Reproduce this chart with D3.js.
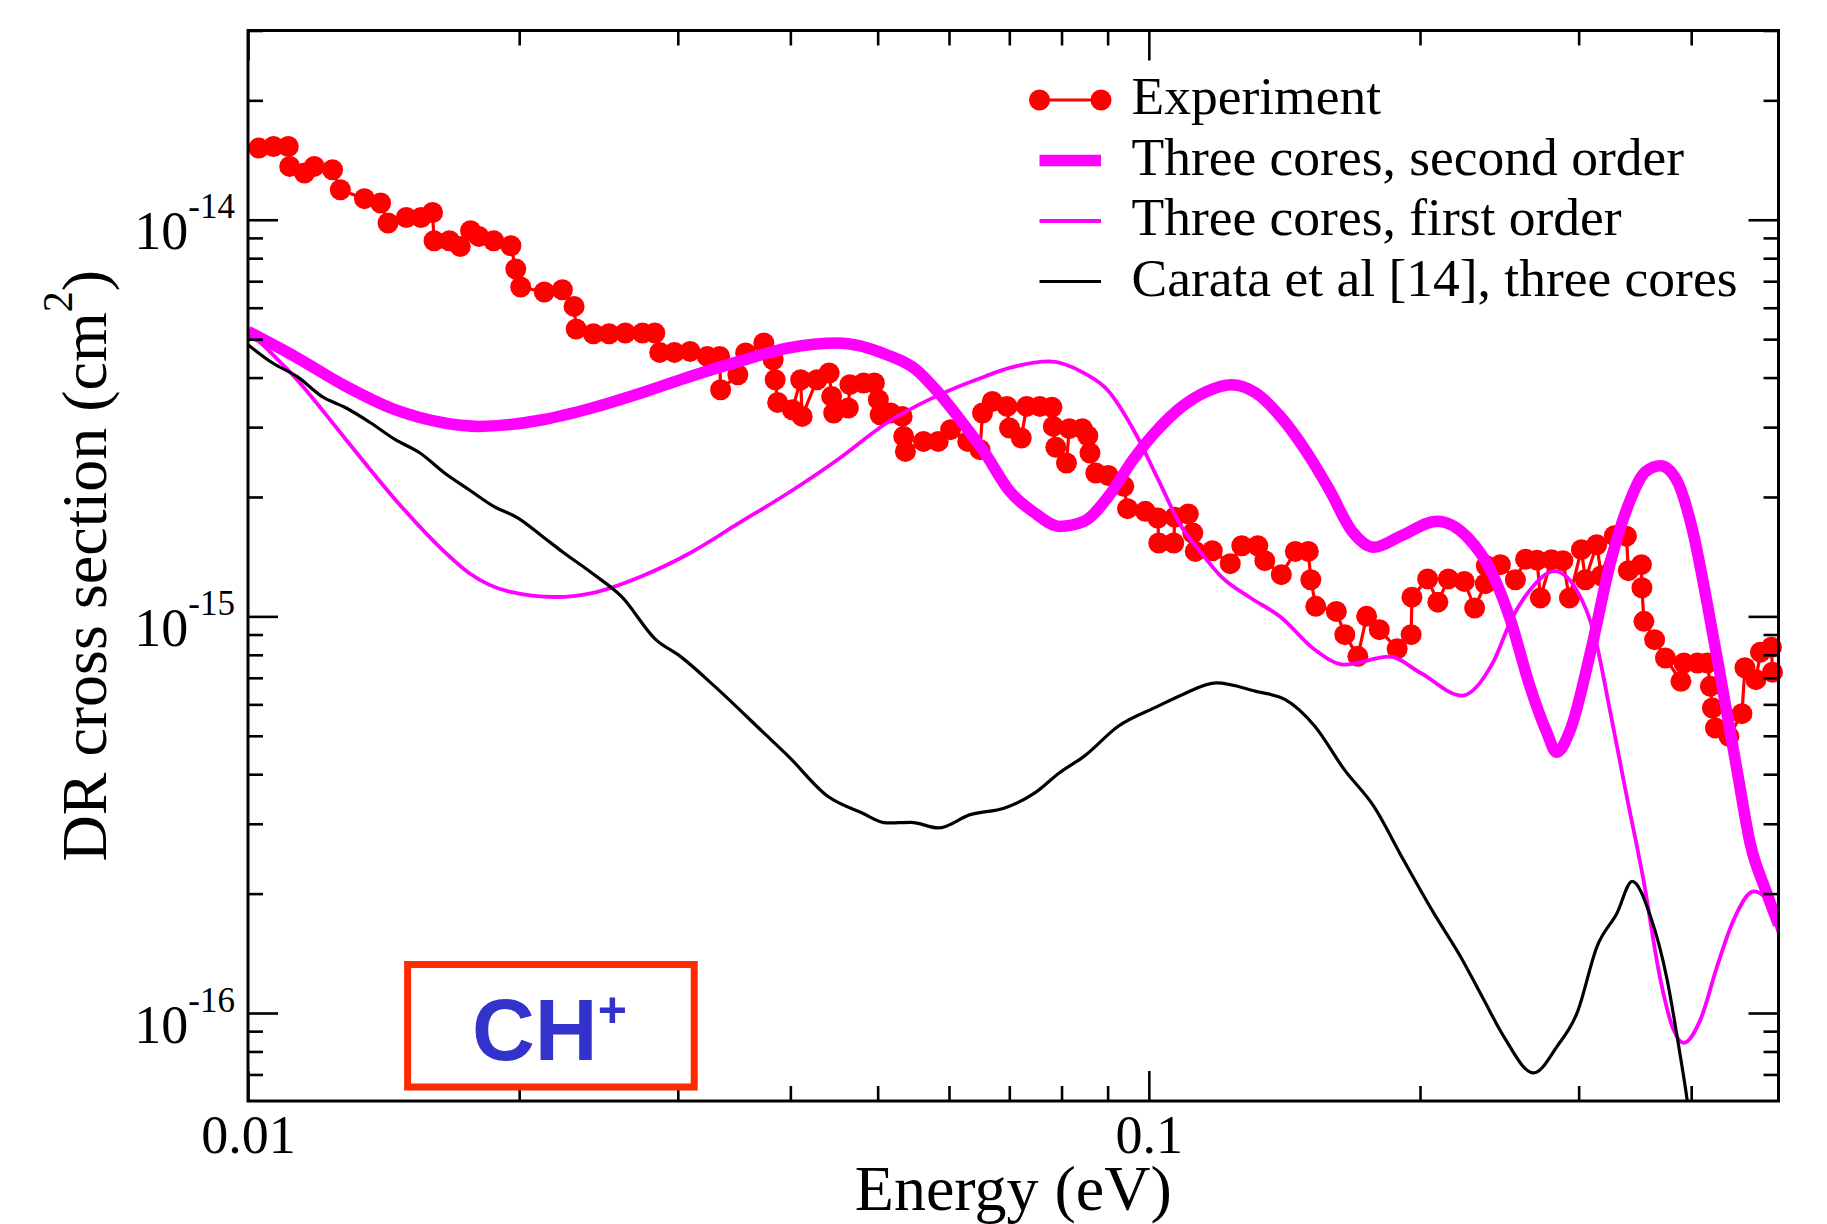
<!DOCTYPE html>
<html>
<head>
<meta charset="utf-8">
<script src="https://cdnjs.cloudflare.com/ajax/libs/d3/7.8.5/d3.min.js"></script>
<style>
  html, body { margin: 0; padding: 0; background: #fff; }
  svg { display: block; }
  text { font-family: "Liberation Serif", "Times New Roman", serif; }
</style>
</head>
<body>
<svg id="chart" width="1827" height="1224"></svg>
<script>
// ---- Experiment (storage ring measurement) ----
const expEnergy = [
  0.01028, 0.010674, 0.011085, 0.011125, 0.011554, 0.011847, 0.012412, 0.012662, 0.013466, 0.014036,
  0.014304, 0.014986, 0.015560, 0.016027, 0.016089, 0.016735, 0.017204, 0.017663, 0.018042, 0.018737,
  0.019580, 0.019827, 0.020077, 0.021325, 0.022335, 0.023013, 0.023137, 0.024177, 0.025168, 0.026233,
  0.027412, 0.028288, 0.028645, 0.029741, 0.030960, 0.032352, 0.033385, 0.033470, 0.034975, 0.035679,
  0.037379, 0.038279, 0.038475, 0.038722, 0.040205, 0.041067, 0.041225, 0.042814, 0.044170, 0.044454,
  0.044681, 0.046393, 0.046571, 0.048232, 0.049582, 0.050092, 0.050323, 0.051679, 0.053235, 0.053440,
  0.053672, 0.056214, 0.058369, 0.060249, 0.062942, 0.064953, 0.065369, 0.067027, 0.069600, 0.070040,
  0.072174, 0.073178, 0.075689, 0.078060, 0.078327, 0.078829, 0.081016, 0.081597, 0.084355, 0.085551,
  0.086033, 0.087317, 0.090145, 0.093799, 0.094705, 0.099099, 0.10231, 0.10257, 0.10658, 0.10685,
  0.11061, 0.11189, 0.11260, 0.11761, 0.12314, 0.12682, 0.13211, 0.13450, 0.14030, 0.14541,
  0.15032, 0.15129, 0.15323, 0.16148, 0.16503, 0.17061, 0.17449, 0.18024, 0.18864, 0.19551,
  0.19591, 0.20393, 0.20932, 0.21502, 0.22400, 0.22997, 0.23635, 0.23696, 0.24560, 0.25520,
  0.26194, 0.26976, 0.27204, 0.27980, 0.28815, 0.29298, 0.30211, 0.30521, 0.31416, 0.31796,
  0.32871, 0.33895, 0.34068, 0.35220, 0.35265, 0.35446, 0.36429, 0.37449, 0.38963, 0.39263,
  0.40642, 0.41694, 0.42005, 0.42231, 0.42556, 0.44051, 0.45539, 0.45889, 0.47199, 0.47744,
  0.49107, 0.49233
];
const expSigma = [
  1.516e-14, 1.530e-14, 1.530e-14, 1.363e-14, 1.311e-14, 1.363e-14, 1.337e-14, 1.190e-14, 1.130e-14, 1.102e-14,
  9.810e-15, 1.013e-14, 1.013e-14, 1.043e-14, 8.853e-15, 8.853e-15, 8.564e-15, 9.381e-15, 9.076e-15, 8.853e-15,
  8.599e-15, 7.511e-15, 6.767e-15, 6.573e-15, 6.661e-15, 6.046e-15, 5.303e-15, 5.160e-15, 5.160e-15, 5.181e-15,
  5.181e-15, 5.181e-15, 4.629e-15, 4.629e-15, 4.656e-15, 4.523e-15, 4.523e-15, 3.728e-15, 4.067e-15, 4.613e-15,
  4.889e-15, 4.437e-15, 3.951e-15, 3.463e-15, 3.319e-15, 3.951e-15, 3.193e-15, 3.951e-15, 4.107e-15, 3.586e-15,
  3.257e-15, 3.352e-15, 3.838e-15, 3.876e-15, 3.876e-15, 3.518e-15, 3.224e-15, 3.257e-15, 3.193e-15, 2.843e-15,
  2.606e-15, 2.761e-15, 2.761e-15, 2.956e-15, 2.761e-15, 2.632e-15, 3.257e-15, 3.483e-15, 3.384e-15, 2.985e-15,
  2.817e-15, 3.384e-15, 3.384e-15, 3.368e-15, 3.013e-15, 2.670e-15, 2.436e-15, 2.973e-15, 2.973e-15, 2.854e-15,
  2.582e-15, 2.299e-15, 2.266e-15, 2.127e-15, 1.869e-15, 1.840e-15, 1.770e-15, 1.531e-15, 1.531e-15, 1.779e-15,
  1.813e-15, 1.623e-15, 1.458e-15, 1.464e-15, 1.358e-15, 1.507e-15, 1.507e-15, 1.382e-15, 1.274e-15, 1.458e-15,
  1.458e-15, 1.237e-15, 1.060e-15, 1.029e-15, 8.992e-16, 7.928e-16, 1.000e-15, 9.257e-16, 8.281e-16, 8.992e-16,
  1.118e-15, 1.243e-15, 1.086e-15, 1.243e-15, 1.225e-15, 1.050e-15, 1.209e-15, 1.342e-15, 1.350e-15, 1.237e-15,
  1.394e-15, 1.386e-15, 1.113e-15, 1.390e-15, 1.382e-15, 1.113e-15, 1.473e-15, 1.237e-15, 1.516e-15, 1.266e-15,
  1.597e-15, 1.593e-15, 1.304e-15, 1.350e-15, 1.181e-15, 9.714e-16, 8.735e-16, 7.855e-16, 6.857e-16, 7.629e-16,
  7.629e-16, 7.629e-16, 6.661e-16, 5.876e-16, 5.232e-16, 4.983e-16, 5.685e-16, 7.423e-16, 6.924e-16, 8.124e-16,
  8.363e-16, 7.232e-16
];

// ---- Three cores, second order ----
const secondOrderEnergy = [
  0.01, 0.011335, 0.012848, 0.014562, 0.016527, 0.018042, 0.021244, 0.024085, 0.027314, 0.030960,
  0.035092, 0.039776, 0.045130, 0.051166, 0.055175, 0.058011, 0.061745, 0.065771, 0.069986, 0.074727,
  0.079529, 0.084723, 0.090192, 0.096046, 0.10226, 0.10892, 0.11596, 0.12346, 0.13147, 0.13994,
  0.14906, 0.15862, 0.16822, 0.17773, 0.19067, 0.20906, 0.22630, 0.23940, 0.25195, 0.26450,
  0.27661, 0.28340, 0.29373, 0.30914, 0.32536, 0.34243, 0.35582, 0.36973, 0.38517, 0.40125,
  0.41694, 0.43324, 0.45019, 0.46540, 0.48361, 0.5
];
const secondOrderSigma = [
  5.229e-15, 4.489e-15, 3.800e-15, 3.319e-15, 3.073e-15, 3.013e-15, 3.132e-15, 3.352e-15, 3.657e-15, 4.027e-15,
  4.394e-15, 4.749e-15, 4.889e-15, 4.568e-15, 4.187e-15, 3.728e-15, 3.132e-15, 2.582e-15, 2.074e-15, 1.822e-15,
  1.686e-15, 1.736e-15, 2.007e-15, 2.483e-15, 2.956e-15, 3.384e-15, 3.691e-15, 3.838e-15, 3.657e-15, 3.193e-15,
  2.632e-15, 2.086e-15, 1.635e-15, 1.494e-15, 1.597e-15, 1.738e-15, 1.574e-15, 1.311e-15, 9.810e-16, 6.727e-16,
  5.091e-16, 4.547e-16, 5.181e-16, 8.100e-16, 1.366e-15, 1.969e-15, 2.316e-15, 2.398e-15, 2.211e-15, 1.654e-15,
  1.070e-15, 6.611e-16, 4.036e-16, 2.658e-16, 2.047e-16, 1.671e-16
];

// ---- Three cores, first order ----
const firstOrderEnergy = [
  0.01, 0.011335, 0.012848, 0.014573, 0.016527, 0.017595, 0.019455, 0.021922, 0.024085, 0.027314,
  0.030960, 0.035092, 0.039776, 0.045130, 0.051166, 0.058011, 0.065771, 0.070165, 0.077582, 0.084723,
  0.089914, 0.096587, 0.10244, 0.10837, 0.11405, 0.12065, 0.12961, 0.13994, 0.15284, 0.16482,
  0.18491, 0.20017, 0.22268, 0.24063, 0.25325, 0.26517, 0.28196, 0.29827, 0.31232, 0.32536,
  0.33808, 0.35401, 0.36973, 0.38223, 0.39243, 0.40954, 0.42741, 0.44595, 0.46935, 0.48571, 0.5
];
const firstOrderSigma = [
  5.251e-15, 3.951e-15, 2.789e-15, 1.969e-15, 1.455e-15, 1.286e-15, 1.156e-15, 1.119e-15, 1.145e-15, 1.261e-15,
  1.445e-15, 1.720e-15, 2.047e-15, 2.483e-15, 3.073e-15, 3.586e-15, 4.027e-15, 4.236e-15, 4.394e-15, 4.107e-15,
  3.728e-15, 2.900e-15, 2.211e-15, 1.703e-15, 1.455e-15, 1.252e-15, 1.114e-15, 9.983e-16, 8.242e-16, 7.554e-16,
  7.913e-16, 7.211e-16, 6.313e-16, 7.598e-16, 9.925e-16, 1.168e-15, 1.300e-15, 1.168e-15, 8.992e-16, 5.718e-16,
  3.657e-16, 2.169e-16, 1.214e-16, 9.080e-17, 8.406e-17, 9.623e-17, 1.311e-16, 1.720e-16, 2.027e-16, 1.931e-16,
  1.595e-16
];

// ---- Carata et al [14], three cores ----
const carataEnergy = [
  0.01, 0.010649, 0.011335, 0.012074, 0.012854, 0.013688, 0.014573, 0.015524, 0.016527, 0.017595,
  0.018737, 0.019944, 0.021244, 0.022335, 0.024085, 0.025973, 0.028360, 0.030193, 0.032969, 0.037379,
  0.039806, 0.044013, 0.048060, 0.051166, 0.054473, 0.058369, 0.063345, 0.069176, 0.074727, 0.079529,
  0.084723, 0.092480, 0.10226, 0.10892, 0.11890, 0.13147, 0.14174, 0.15284, 0.16482, 0.17773,
  0.19165, 0.20709, 0.22171, 0.23533, 0.24768, 0.26742, 0.28392, 0.29881, 0.31449, 0.33097,
  0.34393, 0.36040, 0.37612, 0.38744, 0.39585, 0.40125
];
const carataSigma = [
  4.841e-15, 4.353e-15, 4.027e-15, 3.586e-15, 3.352e-15, 3.073e-15, 2.789e-15, 2.582e-15, 2.299e-15, 2.086e-15,
  1.894e-15, 1.770e-15, 1.588e-15, 1.455e-15, 1.286e-15, 1.123e-15, 8.735e-16, 7.928e-16, 6.661e-16, 5.083e-16,
  4.437e-16, 3.518e-16, 3.194e-16, 3.014e-16, 3.025e-16, 2.928e-16, 3.163e-16, 3.288e-16, 3.588e-16, 4.029e-16,
  4.437e-16, 5.286e-16, 5.931e-16, 6.348e-16, 6.794e-16, 6.471e-16, 6.168e-16, 5.286e-16, 4.107e-16, 3.319e-16,
  2.436e-16, 1.788e-16, 1.390e-16, 1.081e-16, 8.734e-17, 7.063e-17, 8.241e-17, 1.0006e-16, 1.473e-16, 1.788e-16,
  2.148e-16, 1.753e-16, 1.214e-16, 8.241e-17, 6.049e-17, 4.796e-17
];

// ---- Axis ticks and labels ----
const xMajorTicks = [0.01, 0.1];
const xTickLabels = ["0.01", "0.1"];
const xMinorTicks = [0.02, 0.03, 0.04, 0.05, 0.06, 0.07, 0.08, 0.09, 0.2, 0.3, 0.4];
const yMajorTicks = [1e-16, 1e-15, 1e-14];
const yTickExponents = ["-16", "-15", "-14"];
const yMinorTicks = [7e-17, 8e-17, 9e-17,
  2e-16, 3e-16, 4e-16, 5e-16, 6e-16, 7e-16, 8e-16, 9e-16,
  2e-15, 3e-15, 4e-15, 5e-15, 6e-15, 7e-15, 8e-15, 9e-15,
  2e-14, 3e-14];
const legendLabels = [
  "Experiment",
  "Three cores, second order",
  "Three cores, first order",
  "Carata et al [14], three cores"
];

// ---- Layout ----
const W = 1827, H = 1224;
const plot = { left: 248, right: 1778.5, top: 30.5, bottom: 1101 };
const MAGENTA = "#ff00ff", RED = "#ff0000";
const THICK = 11.5, THIN = 3.8, BLACK_W = 3.2;

const svg = d3.select("#chart");
svg.append("rect").attr("width", W).attr("height", H).attr("fill", "#fff");

const x = d3.scaleLog().domain([0.01, 0.5]).range([plot.left, plot.right]);
const y = d3.scaleLog().domain([6e-17, 3e-14]).range([plot.bottom, plot.top]);

svg.append("defs").append("clipPath").attr("id", "plotClip")
  .append("rect")
  .attr("x", plot.left).attr("y", plot.top)
  .attr("width", plot.right - plot.left).attr("height", plot.bottom - plot.top);

const line = d3.line()
  .x(d => x(d[0]))
  .y(d => y(d[1]))
  .curve(d3.curveMonotoneX);

const expData = d3.zip(expEnergy, expSigma);
const secondData = d3.zip(secondOrderEnergy, secondOrderSigma);
const firstData = d3.zip(firstOrderEnergy, firstOrderSigma);
const carataData = d3.zip(carataEnergy, carataSigma);

// ---- Experiment: connected filled circles ----
const expG = svg.append("g");
expG.append("path")
  .datum(expData)
  .attr("fill", "none")
  .attr("stroke", RED)
  .attr("stroke-width", 3.2)
  .attr("stroke-linejoin", "round")
  .attr("d", d3.line().x(d => x(d[0])).y(d => y(d[1])));
expG.selectAll("circle")
  .data(expData)
  .join("circle")
  .attr("cx", d => x(d[0]))
  .attr("cy", d => y(d[1]))
  .attr("r", 10.5)
  .attr("fill", RED);

// ---- Theory curves ----
const curves = svg.append("g").attr("clip-path", "url(#plotClip)");
curves.append("path").datum(secondData)
  .attr("fill", "none").attr("stroke", MAGENTA).attr("stroke-width", THICK)
  .attr("stroke-linejoin", "round").attr("d", line);
curves.append("path").datum(firstData)
  .attr("fill", "none").attr("stroke", MAGENTA).attr("stroke-width", THIN)
  .attr("stroke-linejoin", "round").attr("d", line);
curves.append("path").datum(carataData)
  .attr("fill", "none").attr("stroke", "#000").attr("stroke-width", BLACK_W)
  .attr("stroke-linejoin", "round").attr("d", line);

// ---- Axes (ticks pointing inward on all four sides) ----
function styleAxis(g) {
  g.select(".domain").remove();
  g.selectAll(".tick line").attr("stroke", "#000").attr("stroke-width", 2.6);
}

// bottom
svg.append("g").attr("transform", `translate(0,${plot.bottom})`)
  .call(d3.axisBottom(x).tickValues(xMinorTicks).tickSize(-15).tickFormat(""))
  .call(styleAxis);
const xAxisG = svg.append("g").attr("transform", `translate(0,${plot.bottom})`)
  .call(d3.axisBottom(x).tickValues(xMajorTicks).tickSize(-30).tickPadding(0)
    .tickFormat((d, i) => xTickLabels[i]))
  .call(styleAxis);
xAxisG.selectAll(".tick text")
  .attr("y", 52).attr("dy", null)
  .attr("fill", "#000")
  .style("font-family", "'Liberation Serif', serif")
  .style("font-size", "54px");

// top
svg.append("g").attr("transform", `translate(0,${plot.top})`)
  .call(d3.axisTop(x).tickValues(xMinorTicks).tickSize(-15).tickFormat(""))
  .call(styleAxis);
svg.append("g").attr("transform", `translate(0,${plot.top})`)
  .call(d3.axisTop(x).tickValues(xMajorTicks).tickSize(-30).tickFormat(""))
  .call(styleAxis);

// left
svg.append("g").attr("transform", `translate(${plot.left},0)`)
  .call(d3.axisLeft(y).tickValues(yMinorTicks).tickSize(-15).tickFormat(""))
  .call(styleAxis);
const yAxisG = svg.append("g").attr("transform", `translate(${plot.left},0)`)
  .call(d3.axisLeft(y).tickValues(yMajorTicks).tickSize(-30).tickPadding(13).tickFormat(""))
  .call(styleAxis);
yAxisG.selectAll(".tick text").each(function (d, i) {
  const t = d3.select(this)
    .attr("y", 29).attr("dy", null)
    .attr("fill", "#000")
    .attr("text-anchor", "end")
    .style("font-family", "'Liberation Serif', serif")
    .style("font-size", "54px");
  t.text(null);
  t.append("tspan").text("10");
  t.append("tspan").attr("dy", -31).style("font-size", "35px").text(yTickExponents[i]);
});

// right
svg.append("g").attr("transform", `translate(${plot.right},0)`)
  .call(d3.axisRight(y).tickValues(yMinorTicks).tickSize(-15).tickFormat(""))
  .call(styleAxis);
svg.append("g").attr("transform", `translate(${plot.right},0)`)
  .call(d3.axisRight(y).tickValues(yMajorTicks).tickSize(-30).tickFormat(""))
  .call(styleAxis);

// frame
svg.append("rect")
  .attr("x", plot.left).attr("y", plot.top)
  .attr("width", plot.right - plot.left).attr("height", plot.bottom - plot.top)
  .attr("fill", "none").attr("stroke", "#000").attr("stroke-width", 3);

// ---- Axis titles ----
svg.append("text")
  .attr("x", (plot.left + plot.right) / 2).attr("y", 1210)
  .attr("text-anchor", "middle")
  .style("font-size", "64px")
  .text("Energy (eV)");

const yTitle = svg.append("text")
  .attr("transform", `translate(106,${(plot.top + plot.bottom) / 2}) rotate(-90)`)
  .attr("text-anchor", "middle")
  .style("font-size", "64px");
yTitle.append("tspan").text("DR cross section (cm");
yTitle.append("tspan").attr("dy", -34).style("font-size", "42px").text("2");
yTitle.append("tspan").attr("dy", 34).text(")");

// ---- Legend ----
const legend = svg.append("g");
const legX0 = 1039.5, legX1 = 1101, legTextX = 1131.5;
const legendStyles = [[RED, 3.2], [MAGENTA, THICK], [MAGENTA, THIN], ["#000", BLACK_W]];
legendLabels.forEach((label, i) => {
  const base = 114 + i * 60.5;
  const sy = base - 14;
  legend.append("line").attr("x1", legX0).attr("x2", legX1).attr("y1", sy).attr("y2", sy)
    .attr("stroke", legendStyles[i][0]).attr("stroke-width", legendStyles[i][1]);
  if (i === 0) {
    [legX0, legX1].forEach(cx => legend.append("circle")
      .attr("cx", cx).attr("cy", sy).attr("r", 10.5).attr("fill", RED));
  }
  legend.append("text").attr("x", legTextX).attr("y", base)
    .style("font-size", "53.5px").text(label);
});

// ---- Molecule tag ----
svg.append("rect")
  .attr("x", 407.6).attr("y", 964.5).attr("width", 286.6).attr("height", 122.5)
  .attr("fill", "none").attr("stroke", "#ff2a00").attr("stroke-width", 7);
const tag = svg.append("text")
  .attr("x", 472).attr("y", 1059.5)
  .attr("fill", "#3333cc")
  .style("font-family", "'Liberation Sans', Arial, sans-serif")
  .style("font-weight", "bold")
  .style("font-size", "87px");
tag.append("tspan").text("CH");
tag.append("tspan").attr("dy", -33).style("font-size", "50px").text("+");
</script>
</body>
</html>
